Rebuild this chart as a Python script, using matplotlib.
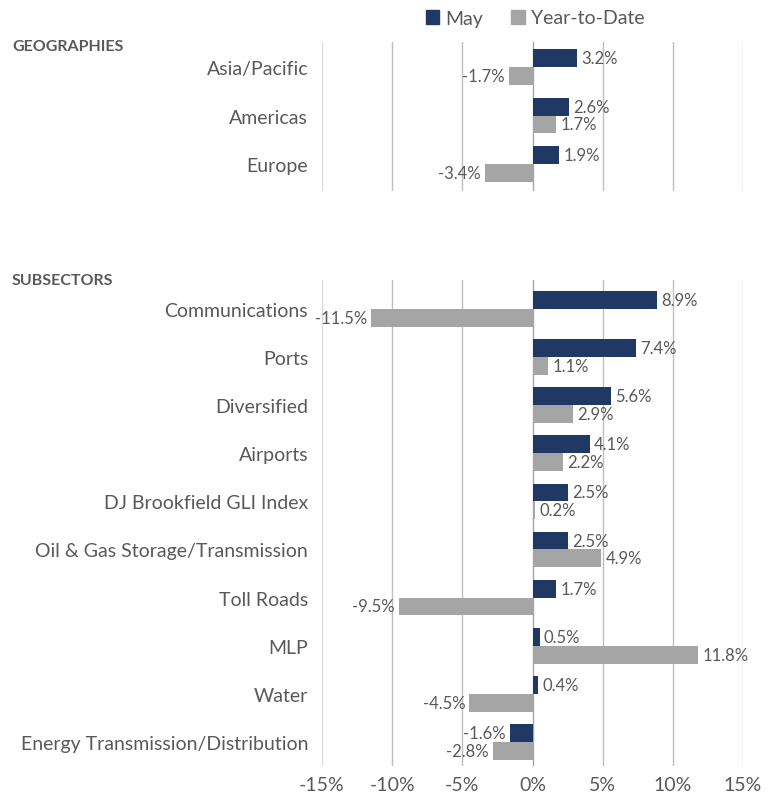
import matplotlib
matplotlib.use("Agg")
import matplotlib.pyplot as plt
from matplotlib.patches import Patch

plt.rcParams['font.family'] = ['Lato', 'DejaVu Sans']

# data (percent)
geo_names = ["Asia/Pacific", "Americas", "Europe"]
geo_may = [3.2, 2.6, 1.9]
geo_ytd = [-1.7, 1.7, -3.4]

sub_names = ["Communications", "Ports", "Diversified", "Airports",
             "DJ Brookfield GLI Index", "Oil & Gas Storage/Transmission",
             "Toll Roads", "MLP", "Water", "Energy Transmission/Distribution"]
sub_may = [8.9, 7.4, 5.6, 4.1, 2.5, 2.5, 1.7, 0.5, 0.4, -1.6]
sub_ytd = [-11.5, 1.1, 2.9, 2.2, 0.2, 4.9, -9.5, 11.8, -4.5, -2.8]

xticks = [-15, -10, -5, 0, 5, 10, 15]

NAVY = "#203864"
GRAY = "#A5A5A5"
TXT = "#595959"
BH = 0.37

fig = plt.figure(figsize=(7.75, 8.04), dpi=100)
W, H = 775.0, 804.0
left = 322 / W
width = 421 / W
ax1 = fig.add_axes([left, 1 - 192 / H, width, 149 / H])
ax2 = fig.add_axes([left, 1 - 767 / H, width, 486 / H])


def draw(ax, names, may, ytd, ylim, show_x):
    pos = list(range(len(names)))
    for x in xticks:
        col = "#D9D9D9" if x == -15 else ("#A6A6A6" if x == 0 else "#BFBFBF")
        ax.axvline(x, color=col, lw=1.0, zorder=0)
    ax.barh([p - BH / 2 for p in pos], may, height=BH, color=NAVY, zorder=2)
    ax.barh([p + BH / 2 for p in pos], ytd, height=BH, color=GRAY, zorder=2)
    for p, m, y in zip(pos, may, ytd):
        for v, yy in ((m, p - BH / 2), (y, p + BH / 2)):
            ax.annotate(f"{v:.1f}%", (v, yy), xytext=(3 if v >= 0 else -3, 0),
                        textcoords="offset points", va="center",
                        ha="left" if v >= 0 else "right",
                        fontsize=12, color=TXT)
    ax.set_xlim(-15, 15)
    ax.set_ylim(*ylim)
    ax.set_yticks(pos)
    ax.set_yticklabels(names, fontsize=14, color=TXT)
    ax.tick_params(axis="y", length=0, pad=10)
    ax.set_xticks(xticks)
    if show_x:
        ax.set_xticklabels([f"{x}%" for x in xticks], fontsize=14, color=TXT)
        ax.tick_params(axis="x", length=0, pad=7)
    else:
        ax.tick_params(axis="x", length=0, labelbottom=False)
    for s in ax.spines.values():
        s.set_visible(False)


draw(ax1, geo_names, geo_may, geo_ytd, (2.56, -0.52), False)
draw(ax2, sub_names, sub_may, sub_ytd, (9.5, -0.6), True)

fig.text(12 / W, 1 - 47 / H, "GEOGRAPHIES", fontsize=11.5, fontweight="bold",
         color=TXT, va="center")
fig.text(12 / W, 1 - 281 / H, "SUBSECTORS", fontsize=11.5, fontweight="bold",
         color=TXT, va="center")

handles = [Patch(color=NAVY, label="May"), Patch(color=GRAY, label="Year-to-Date")]
fig.legend(handles=handles, loc="center", bbox_to_anchor=(535 / W, 1 - 19 / H),
           ncol=2, frameon=False, fontsize=14, labelcolor=TXT,
           handlelength=0.7, handleheight=0.7, handletextpad=0.3,
           columnspacing=1.45)

fig.savefig("out.png", dpi=100)
